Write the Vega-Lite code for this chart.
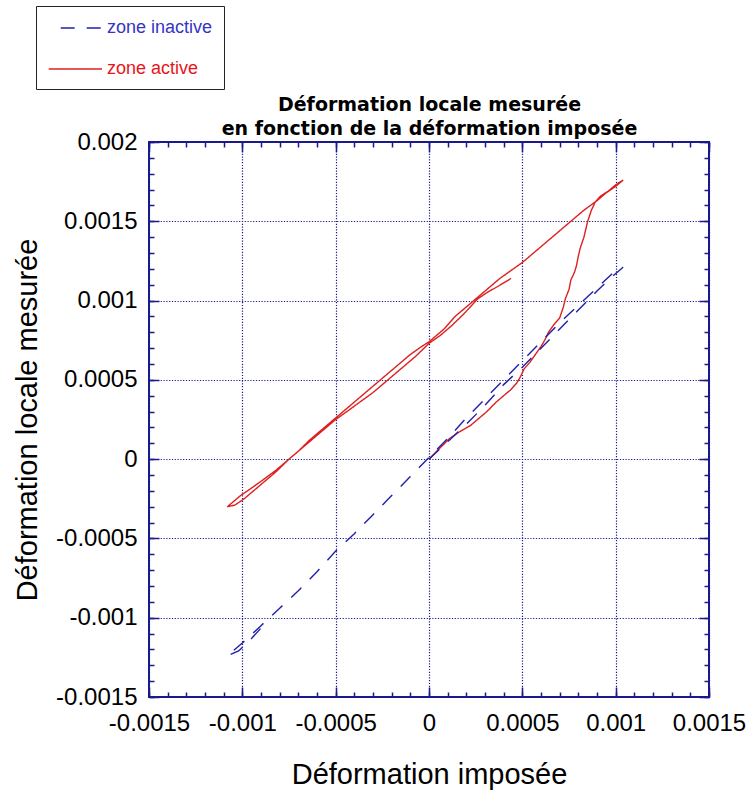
{
  "$schema": "https://vega.github.io/schema/vega-lite/v6.json",
  "autosize": {"type": "none"},
  "padding": {"left": 149, "top": 142, "right": 44, "bottom": 97},
  "width": 560,
  "height": 555,
  "background": "white",
  "config": {
    "view": {"stroke": "#1a1a8c", "strokeWidth": 2},
    "axis": {
      "labelFont": "Liberation Sans",
      "titleFont": "Liberation Sans",
      "labelColor": "black",
      "titleColor": "black",
      "labelFontSize": 24,
      "titleFontSize": 29,
      "titleFontWeight": "normal",
      "domain": false,
      "ticks": false,
      "grid": false,
      "gridColor": "#1a1a8c",
      "gridDash": [1.2, 1.6],
      "gridOpacity": 1,
      "gridWidth": 1.2,
      "tickColor": "#1a1a8c",
      "tickWidth": 1.5,
      "labelFlush": false,
      "labelOverlap": false,
      "labelBound": false
    },
    "legend": {
      "orient": "none",
      "legendX": -113,
      "legendY": -136,
      "symbolType": "M-0.93,0H4.4",
      "symbolSize": 400,
      "symbolStrokeWidth": 1.5,
      "labelFont": "Liberation Sans",
      "labelFontSize": 18,
      "labelOffset": 38,
      "padding": 11,
      "rowPadding": 21,
      "strokeColor": "#222222",
      "fillColor": "white"
    }
  },
  "data": {
    "values": [
      {"serie": "zone active", "i": 1, "x": 0, "y": 0},
      {"serie": "zone active", "i": 2, "x": 0.00005, "y": 0.00006},
      {"serie": "zone active", "i": 3, "x": 0.00011, "y": 0.00013},
      {"serie": "zone active", "i": 4, "x": 0.00016, "y": 0.00017},
      {"serie": "zone active", "i": 5, "x": 0.00022, "y": 0.00021},
      {"serie": "zone active", "i": 6, "x": 0.00027, "y": 0.00026},
      {"serie": "zone active", "i": 7, "x": 0.00031, "y": 0.0003},
      {"serie": "zone active", "i": 8, "x": 0.00036, "y": 0.00036},
      {"serie": "zone active", "i": 9, "x": 0.0004, "y": 0.0004},
      {"serie": "zone active", "i": 10, "x": 0.00044, "y": 0.00044},
      {"serie": "zone active", "i": 11, "x": 0.00047, "y": 0.00048},
      {"serie": "zone active", "i": 12, "x": 0.00049, "y": 0.00052},
      {"serie": "zone active", "i": 13, "x": 0.00051, "y": 0.00057},
      {"serie": "zone active", "i": 14, "x": 0.00054, "y": 0.00061},
      {"serie": "zone active", "i": 15, "x": 0.00057, "y": 0.00066},
      {"serie": "zone active", "i": 16, "x": 0.0006, "y": 0.00071},
      {"serie": "zone active", "i": 17, "x": 0.00062, "y": 0.00075},
      {"serie": "zone active", "i": 18, "x": 0.00064, "y": 0.0008},
      {"serie": "zone active", "i": 19, "x": 0.00067, "y": 0.00085},
      {"serie": "zone active", "i": 20, "x": 0.0007, "y": 0.00089},
      {"serie": "zone active", "i": 21, "x": 0.00072, "y": 0.00096},
      {"serie": "zone active", "i": 22, "x": 0.00073, "y": 0.00101},
      {"serie": "zone active", "i": 23, "x": 0.00075, "y": 0.00107},
      {"serie": "zone active", "i": 24, "x": 0.00076, "y": 0.00113},
      {"serie": "zone active", "i": 25, "x": 0.00078, "y": 0.00118},
      {"serie": "zone active", "i": 26, "x": 0.00079, "y": 0.00122},
      {"serie": "zone active", "i": 27, "x": 0.0008, "y": 0.00128},
      {"serie": "zone active", "i": 28, "x": 0.00081, "y": 0.00133},
      {"serie": "zone active", "i": 29, "x": 0.00083, "y": 0.0014},
      {"serie": "zone active", "i": 30, "x": 0.00085, "y": 0.0015},
      {"serie": "zone active", "i": 31, "x": 0.00087, "y": 0.00157},
      {"serie": "zone active", "i": 32, "x": 0.00089, "y": 0.00162},
      {"serie": "zone active", "i": 33, "x": 0.00092, "y": 0.00166},
      {"serie": "zone active", "i": 34, "x": 0.00096, "y": 0.00169},
      {"serie": "zone active", "i": 35, "x": 0.001, "y": 0.00173},
      {"serie": "zone active", "i": 36, "x": 0.00104, "y": 0.00176},
      {"serie": "zone active", "i": 37, "x": 0.001, "y": 0.00172},
      {"serie": "zone active", "i": 38, "x": 0.00095, "y": 0.00168},
      {"serie": "zone active", "i": 39, "x": 0.0009, "y": 0.00163},
      {"serie": "zone active", "i": 40, "x": 0.00083, "y": 0.00157},
      {"serie": "zone active", "i": 41, "x": 0.00077, "y": 0.00151},
      {"serie": "zone active", "i": 42, "x": 0.0007, "y": 0.00144},
      {"serie": "zone active", "i": 43, "x": 0.00062, "y": 0.00136},
      {"serie": "zone active", "i": 44, "x": 0.00055, "y": 0.00129},
      {"serie": "zone active", "i": 45, "x": 0.0005, "y": 0.00124},
      {"serie": "zone active", "i": 46, "x": 0.00044, "y": 0.00119},
      {"serie": "zone active", "i": 47, "x": 0.00038, "y": 0.00114},
      {"serie": "zone active", "i": 48, "x": 0.00032, "y": 0.00108},
      {"serie": "zone active", "i": 49, "x": 0.00027, "y": 0.00103},
      {"serie": "zone active", "i": 50, "x": 0.0002, "y": 0.00096},
      {"serie": "zone active", "i": 51, "x": 0.00014, "y": 0.0009},
      {"serie": "zone active", "i": 52, "x": 0.00008, "y": 0.00082},
      {"serie": "zone active", "i": 53, "x": 0.00003, "y": 0.00077},
      {"serie": "zone active", "i": 54, "x": 0, "y": 0.00074},
      {"serie": "zone active", "i": 55, "x": -0.00004, "y": 0.00071},
      {"serie": "zone active", "i": 56, "x": -0.0001, "y": 0.00066},
      {"serie": "zone active", "i": 57, "x": -0.00017, "y": 0.00059},
      {"serie": "zone active", "i": 58, "x": -0.00025, "y": 0.00051},
      {"serie": "zone active", "i": 59, "x": -0.00032, "y": 0.00044},
      {"serie": "zone active", "i": 60, "x": -0.0004, "y": 0.00036},
      {"serie": "zone active", "i": 61, "x": -0.00046, "y": 0.0003},
      {"serie": "zone active", "i": 62, "x": -0.0005, "y": 0.00026},
      {"serie": "zone active", "i": 63, "x": -0.00057, "y": 0.00019},
      {"serie": "zone active", "i": 64, "x": -0.00064, "y": 0.00012},
      {"serie": "zone active", "i": 65, "x": -0.0007, "y": 0.00005},
      {"serie": "zone active", "i": 66, "x": -0.00075, "y": 0},
      {"serie": "zone active", "i": 67, "x": -0.00082, "y": -0.00007},
      {"serie": "zone active", "i": 68, "x": -0.0009, "y": -0.00014},
      {"serie": "zone active", "i": 69, "x": -0.00096, "y": -0.00019},
      {"serie": "zone active", "i": 70, "x": -0.00101, "y": -0.00023},
      {"serie": "zone active", "i": 71, "x": -0.00105, "y": -0.00027},
      {"serie": "zone active", "i": 72, "x": -0.00108, "y": -0.0003},
      {"serie": "zone active", "i": 73, "x": -0.00104, "y": -0.00029},
      {"serie": "zone active", "i": 74, "x": -0.00099, "y": -0.00025},
      {"serie": "zone active", "i": 75, "x": -0.00094, "y": -0.0002},
      {"serie": "zone active", "i": 76, "x": -0.00088, "y": -0.00014},
      {"serie": "zone active", "i": 77, "x": -0.00082, "y": -0.00008},
      {"serie": "zone active", "i": 78, "x": -0.00075, "y": 0},
      {"serie": "zone active", "i": 79, "x": -0.00068, "y": 0.00007},
      {"serie": "zone active", "i": 80, "x": -0.00062, "y": 0.00013},
      {"serie": "zone active", "i": 81, "x": -0.00056, "y": 0.00019},
      {"serie": "zone active", "i": 82, "x": -0.0005, "y": 0.00025},
      {"serie": "zone active", "i": 83, "x": -0.00044, "y": 0.0003},
      {"serie": "zone active", "i": 84, "x": -0.00037, "y": 0.00036},
      {"serie": "zone active", "i": 85, "x": -0.0003, "y": 0.00042},
      {"serie": "zone active", "i": 86, "x": -0.00022, "y": 0.0005},
      {"serie": "zone active", "i": 87, "x": -0.00014, "y": 0.00058},
      {"serie": "zone active", "i": 88, "x": -0.00007, "y": 0.00065},
      {"serie": "zone active", "i": 89, "x": 0, "y": 0.00073},
      {"serie": "zone active", "i": 90, "x": 0.00006, "y": 0.00078},
      {"serie": "zone active", "i": 91, "x": 0.00012, "y": 0.00084},
      {"serie": "zone active", "i": 92, "x": 0.00019, "y": 0.00092},
      {"serie": "zone active", "i": 93, "x": 0.00026, "y": 0.00101},
      {"serie": "zone active", "i": 94, "x": 0.00031, "y": 0.00105},
      {"serie": "zone active", "i": 95, "x": 0.00037, "y": 0.00109},
      {"serie": "zone active", "i": 96, "x": 0.00044, "y": 0.00114},
      {"serie": "zone inactive", "i": 1, "x": 0, "y": 0},
      {"serie": "zone inactive", "i": 2, "x": 0.0001, "y": 0.00011},
      {"serie": "zone inactive", "i": 3, "x": 0.0002, "y": 0.00022},
      {"serie": "zone inactive", "i": 4, "x": 0.0003, "y": 0.00034},
      {"serie": "zone inactive", "i": 5, "x": 0.0004, "y": 0.00047},
      {"serie": "zone inactive", "i": 6, "x": 0.0005, "y": 0.00058},
      {"serie": "zone inactive", "i": 7, "x": 0.0006, "y": 0.0007},
      {"serie": "zone inactive", "i": 8, "x": 0.0007, "y": 0.00082},
      {"serie": "zone inactive", "i": 9, "x": 0.0008, "y": 0.00094},
      {"serie": "zone inactive", "i": 10, "x": 0.0009, "y": 0.00106},
      {"serie": "zone inactive", "i": 11, "x": 0.00097, "y": 0.00114},
      {"serie": "zone inactive", "i": 12, "x": 0.00104, "y": 0.00121},
      {"serie": "zone inactive", "i": 13, "x": 0.001, "y": 0.00119},
      {"serie": "zone inactive", "i": 14, "x": 0.0009, "y": 0.00108},
      {"serie": "zone inactive", "i": 15, "x": 0.0008, "y": 0.00097},
      {"serie": "zone inactive", "i": 16, "x": 0.0007, "y": 0.00086},
      {"serie": "zone inactive", "i": 17, "x": 0.0006, "y": 0.00074},
      {"serie": "zone inactive", "i": 18, "x": 0.0005, "y": 0.00062},
      {"serie": "zone inactive", "i": 19, "x": 0.0004, "y": 0.0005},
      {"serie": "zone inactive", "i": 20, "x": 0.0003, "y": 0.00038},
      {"serie": "zone inactive", "i": 21, "x": 0.0002, "y": 0.00026},
      {"serie": "zone inactive", "i": 22, "x": 0.0001, "y": 0.00013},
      {"serie": "zone inactive", "i": 23, "x": 0, "y": 0.00001},
      {"serie": "zone inactive", "i": 24, "x": -0.0001, "y": -0.00011},
      {"serie": "zone inactive", "i": 25, "x": -0.0002, "y": -0.00023},
      {"serie": "zone inactive", "i": 26, "x": -0.0003, "y": -0.00035},
      {"serie": "zone inactive", "i": 27, "x": -0.0004, "y": -0.00047},
      {"serie": "zone inactive", "i": 28, "x": -0.0005, "y": -0.00058},
      {"serie": "zone inactive", "i": 29, "x": -0.0006, "y": -0.00071},
      {"serie": "zone inactive", "i": 30, "x": -0.0007, "y": -0.00083},
      {"serie": "zone inactive", "i": 31, "x": -0.0008, "y": -0.00094},
      {"serie": "zone inactive", "i": 32, "x": -0.0009, "y": -0.00105},
      {"serie": "zone inactive", "i": 33, "x": -0.001, "y": -0.00116},
      {"serie": "zone inactive", "i": 34, "x": -0.00108, "y": -0.00124},
      {"serie": "zone inactive", "i": 35, "x": -0.00102, "y": -0.00121},
      {"serie": "zone inactive", "i": 36, "x": -0.00095, "y": -0.00113},
      {"serie": "zone inactive", "i": 37, "x": -0.00088, "y": -0.00104}
    ]
  },
  "encoding": {
    "x": {"field": "x", "type": "quantitative", "scale": {"domain": [-0.0015, 0.0015], "nice": false, "zero": false}},
    "y": {"field": "y", "type": "quantitative", "scale": {"domain": [-0.0015, 0.002], "nice": false, "zero": false}}
  },
  "layer": [
    {
      "mark": {"type": "line", "strokeWidth": 1.4, "clip": true},
      "encoding": {
        "x": {"field": "x", "type": "quantitative", "axis": {
          "orient": "bottom", "grid": true, "title": "Déformation imposée",
          "values": [-0.0015, -0.001, -0.0005, 0, 0.0005, 0.001, 0.0015],
          "labelExpr": "'' + datum.value", "labelPadding": 14, "titlePadding": 25
        }},
        "y": {"field": "y", "type": "quantitative", "axis": {
          "orient": "left", "grid": true, "title": "Déformation locale mesurée",
          "values": [-0.0015, -0.001, -0.0005, 0, 0.0005, 0.001, 0.0015, 0.002],
          "labelExpr": "'' + datum.value", "labelPadding": 12, "titlePadding": 13
        }},
        "color": {"field": "serie", "type": "nominal",
          "scale": {"domain": ["zone inactive", "zone active"], "range": ["#2020a8", "#dd2020"]},
          "legend": {
            "title": null,
            "encode": {
              "labels": {"update": {"fill": {"signal": "datum.value == 'zone active' ? '#e8141b' : '#3535c4'"}}},
              "symbols": {"update": {"strokeDashOffset": {"signal": "datum.value == 'zone inactive' ? 14 : 0"}}}
            }
          }
        },
        "strokeDash": {"field": "serie", "type": "nominal",
          "scale": {"domain": ["zone inactive", "zone active"], "range": [[14, 12], [1, 0]]},
          "legend": null
        },
        "order": {"field": "i", "type": "quantitative"}
      }
    },
    {
      "mark": {"type": "point", "opacity": 0},
      "encoding": {
        "x": {"field": "x", "type": "quantitative", "axis": {
          "orient": "bottom", "ticks": true, "tickSize": -5, "labels": false, "title": null,
          "values": [-0.0015, -0.0014, -0.0013, -0.0012, -0.0011, -0.001, -0.0009, -0.0008, -0.0007, -0.0006, -0.0005, -0.0004, -0.0003, -0.0002, -0.0001, 0, 0.0001, 0.0002, 0.0003, 0.0004, 0.0005, 0.0006, 0.0007, 0.0008, 0.0009, 0.001, 0.0011, 0.0012, 0.0013, 0.0014, 0.0015]
        }},
        "y": {"field": "y", "type": "quantitative", "axis": {
          "orient": "left", "ticks": true, "tickSize": -5, "labels": false, "title": null,
          "values": [-0.0015, -0.0014, -0.0013, -0.0012, -0.0011, -0.001, -0.0009, -0.0008, -0.0007, -0.0006, -0.0005, -0.0004, -0.0003, -0.0002, -0.0001, 0, 0.0001, 0.0002, 0.0003, 0.0004, 0.0005, 0.0006, 0.0007, 0.0008, 0.0009, 0.001, 0.0011, 0.0012, 0.0013, 0.0014, 0.0015, 0.0016, 0.0017, 0.0018, 0.0019, 0.002]
        }}
      }
    },
    {
      "mark": {"type": "point", "opacity": 0},
      "encoding": {
        "x": {"field": "x", "type": "quantitative", "axis": {
          "orient": "top", "ticks": true, "tickSize": -5, "labels": false,
          "title": ["Déformation locale mesurée", "en fonction de la déformation imposée"],
          "titleFont": "DejaVu Sans", "titleFontSize": 19, "titleFontWeight": "bold",
          "titleLineHeight": 24, "titlePadding": 3, "titleColor": "black",
          "values": [-0.0015, -0.0014, -0.0013, -0.0012, -0.0011, -0.001, -0.0009, -0.0008, -0.0007, -0.0006, -0.0005, -0.0004, -0.0003, -0.0002, -0.0001, 0, 0.0001, 0.0002, 0.0003, 0.0004, 0.0005, 0.0006, 0.0007, 0.0008, 0.0009, 0.001, 0.0011, 0.0012, 0.0013, 0.0014, 0.0015]
        }},
        "y": {"field": "y", "type": "quantitative", "axis": {
          "orient": "right", "ticks": true, "tickSize": -5, "labels": false, "title": null,
          "values": [-0.0015, -0.0014, -0.0013, -0.0012, -0.0011, -0.001, -0.0009, -0.0008, -0.0007, -0.0006, -0.0005, -0.0004, -0.0003, -0.0002, -0.0001, 0, 0.0001, 0.0002, 0.0003, 0.0004, 0.0005, 0.0006, 0.0007, 0.0008, 0.0009, 0.001, 0.0011, 0.0012, 0.0013, 0.0014, 0.0015, 0.0016, 0.0017, 0.0018, 0.0019, 0.002]
        }}
      }
    },
    {
      "mark": {"type": "point", "opacity": 0},
      "encoding": {
        "x": {"field": "x", "type": "quantitative", "axis": {
          "orient": "bottom", "ticks": true, "tickSize": -10, "labels": false, "title": null,
          "values": [-0.0015, -0.001, -0.0005, 0, 0.0005, 0.001, 0.0015]
        }},
        "y": {"field": "y", "type": "quantitative", "axis": {
          "orient": "left", "ticks": true, "tickSize": -10, "labels": false, "title": null,
          "values": [-0.0015, -0.001, -0.0005, 0, 0.0005, 0.001, 0.0015, 0.002]
        }}
      }
    },
    {
      "mark": {"type": "point", "opacity": 0},
      "encoding": {
        "x": {"field": "x", "type": "quantitative", "axis": {
          "orient": "top", "ticks": true, "tickSize": -10, "labels": false, "title": null,
          "values": [-0.0015, -0.001, -0.0005, 0, 0.0005, 0.001, 0.0015]
        }},
        "y": {"field": "y", "type": "quantitative", "axis": {
          "orient": "right", "ticks": true, "tickSize": -10, "labels": false, "title": null,
          "values": [-0.0015, -0.001, -0.0005, 0, 0.0005, 0.001, 0.0015, 0.002]
        }}
      }
    }
  ],
  "resolve": {"axis": {"x": "independent", "y": "independent"}}
}
